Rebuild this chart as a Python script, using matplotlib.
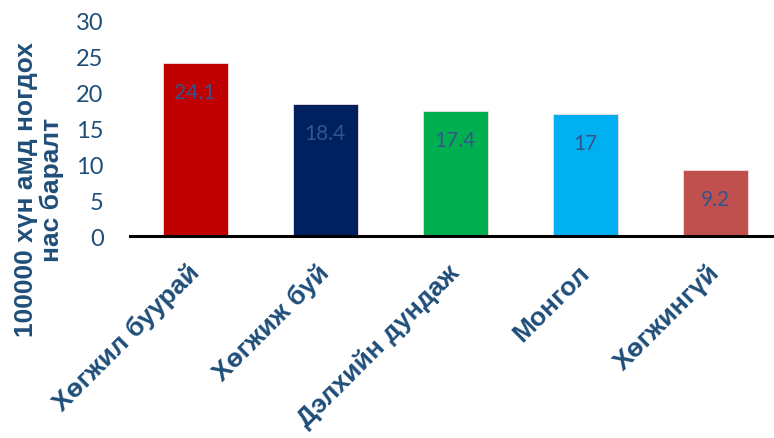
import matplotlib
matplotlib.use('Agg')
import matplotlib.pyplot as plt
from matplotlib.transforms import ScaledTranslation

# ангилал ба утгууд
categories = ['Хөгжил буурай', 'Хөгжиж буй', 'Дэлхийн дундаж', 'Монгол', 'Хөгжингүй']
values = [24.1, 18.4, 17.4, 17, 9.2]
colors = ['#C00000', '#002060', '#00B050', '#00B0F0', '#C0504D']
yticks = [0, 5, 10, 15, 20, 25, 30]

text_blue = '#1F4E79'

fig = plt.figure(figsize=(7.74, 4.39), dpi=100)
ax = fig.add_axes([0.168, 0.46, 0.832, 0.49])

x = range(len(categories))
bars = ax.bar(x, values, width=0.5, color=colors, edgecolor='#f4dede', linewidth=0.6)

# утгын шошгыг баганын дотор бичих
for b, v in zip(bars, values):
    ax.annotate(f'{v:g}', (b.get_x() + b.get_width() / 2, v),
                xytext=(0, -21), textcoords='offset points',
                ha='center', va='center', fontsize=15, family='Lato',
                color='#34558B')

ax.set_xlim(-0.5, 4.45)
ax.set_ylim(0, 30)
ax.set_yticks(yticks)
ax.set_yticklabels([str(t) for t in yticks], fontsize=17, family='Lato', color=text_blue)
ax.set_xticks(list(x))
ax.set_xticklabels(categories, rotation=45, ha='right', rotation_mode='anchor',
                   fontsize=19, fontweight='bold', family='Liberation Sans',
                   color=text_blue)
ax.tick_params(axis='both', length=0)
ax.tick_params(axis='x', pad=17)
ax.tick_params(axis='y', pad=19)

# шошгыг бага зэрэг зүүн тийш шилжүүлэх
shift = ScaledTranslation(-6 / 72, 0, fig.dpi_scale_trans)
for lbl in ax.get_xticklabels():
    lbl.set_transform(lbl.get_transform() + shift)

for s in ['top', 'right', 'left']:
    ax.spines[s].set_visible(False)
ax.spines['bottom'].set_linewidth(2.2)
ax.spines['bottom'].set_color('black')

ax.set_ylabel('100000 хүн амд ногдох\nнас баралт', fontsize=19, fontweight='bold',
              family='Liberation Sans', color=text_blue, linespacing=1.1,
              va='center', ha='center')
ax.yaxis.set_label_coords(-0.141, 0.22)

fig.savefig('out.png', dpi=100)
